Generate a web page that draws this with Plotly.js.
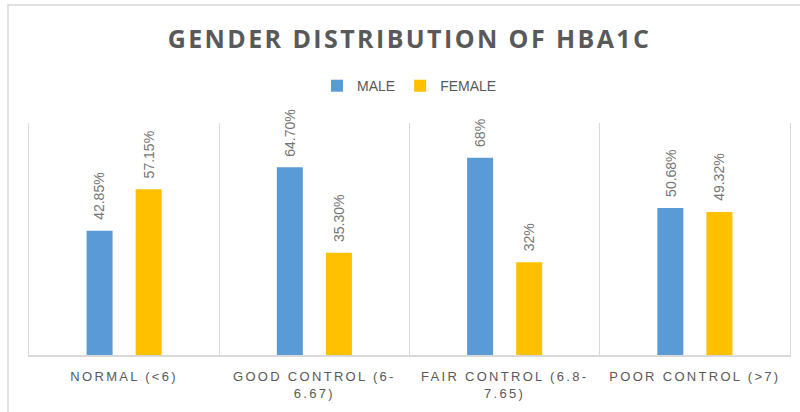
<!DOCTYPE html>
<html>
<head>
<meta charset="utf-8">
<script src="https://cdn.plot.ly/plotly-3.0.1.min.js"></script>
<style>
html,body{margin:0;padding:0;background:#fff;}
#chart{width:800px;height:412px;}
.xtick text{letter-spacing:2.3px;}
.gtitle{letter-spacing:2.4px;}
</style>
</head>
<body>
<div id="chart"></div>
<script>
const categories = ["NORMAL (<6)", "GOOD CONTROL (6-<br>6.67)", "FAIR CONTROL (6.8-<br>7.65)", "POOR CONTROL (>7)"];
const maleValues = [42.85, 64.70, 68, 50.68];
const femaleValues = [57.15, 35.30, 32, 49.32];
const maleLabels = ["42.85%", "64.70%", "68%", "50.68%"];
const femaleLabels = ["57.15%", "35.30%", "32%", "49.32%"];
const seriesNames = ["MALE", "FEMALE"];

const grey = "#595959";
const lineGrey = "#d9d9d9";

const traces = [
  {type: "bar", name: seriesNames[0], x: categories, y: maleValues,
   marker: {color: "#5B9BD5"}, hoverinfo: "skip"},
  {type: "bar", name: seriesNames[1], x: categories, y: femaleValues,
   marker: {color: "#FFC000"}, hoverinfo: "skip"}
];

const annotations = [];
function addLabels(vals, labels, shift) {
  vals.forEach((v, i) => {
    annotations.push({
      x: categories[i], y: v, xref: "x", yref: "y",
      text: labels[i], showarrow: false, textangle: -90,
      xanchor: "center", yanchor: "bottom", xshift: shift, yshift: 9,
      font: {family: "Liberation Sans, Arial, sans-serif", size: 14, color: "#757575"}
    });
  });
}
addLabels(maleValues, maleLabels, -24.5);
addLabels(femaleValues, femaleLabels, 24.5);

const layout = {
  width: 800, height: 412,
  margin: {l: 29, r: 10, t: 123, b: 57},
  paper_bgcolor: "#ffffff", plot_bgcolor: "#ffffff",
  title: {
    text: "GENDER DISTRIBUTION OF HBA1C",
    font: {family: "Open Sans, sans-serif", size: 25, color: grey, weight: "bold"},
    x: 0.5, xref: "paper", xanchor: "center",
    y: 1 - 39/412, yref: "container", yanchor: "middle"
  },
  showlegend: true,
  legend: {
    orientation: "h", x: 0.5, xanchor: "center", y: 1.159, yanchor: "middle",
    font: {family: "Liberation Sans, Arial, sans-serif", size: 14, color: grey},
    itemwidth: 30, traceorder: "normal"
  },
  barmode: "group",
  bargap: 0.484,
  bargroupgap: 0.47,
  xaxis: {
    type: "category",
    range: [-0.5, 3.5],
    tickson: "boundaries",
    showgrid: true, gridcolor: lineGrey, gridwidth: 1,
    showline: true, linecolor: lineGrey, linewidth: 1.5,
    ticks: "", ticklabelstandoff: 9,
    tickfont: {family: "Liberation Sans, Arial, sans-serif", size: 13, color: grey},
    fixedrange: true
  },
  yaxis: {
    range: [0, 80],
    showgrid: false, zeroline: false,
    showticklabels: false, ticks: "",
    showline: true, mirror: true, linecolor: lineGrey, linewidth: 1,
    fixedrange: true
  },
  annotations: annotations,
  shapes: [{
    type: "rect", xref: "paper", yref: "paper",
    x0: (8 - 29) / 761, x1: (812 - 29) / 761,
    y0: (355 - 425) / 232, y1: (355 - 5) / 232,
    line: {color: lineGrey, width: 1.5}, fillcolor: "rgba(0,0,0,0)", layer: "below"
  }]
};

Plotly.newPlot("chart", traces, layout, {displayModeBar: false, staticPlot: true});
</script>
</body>
</html>
